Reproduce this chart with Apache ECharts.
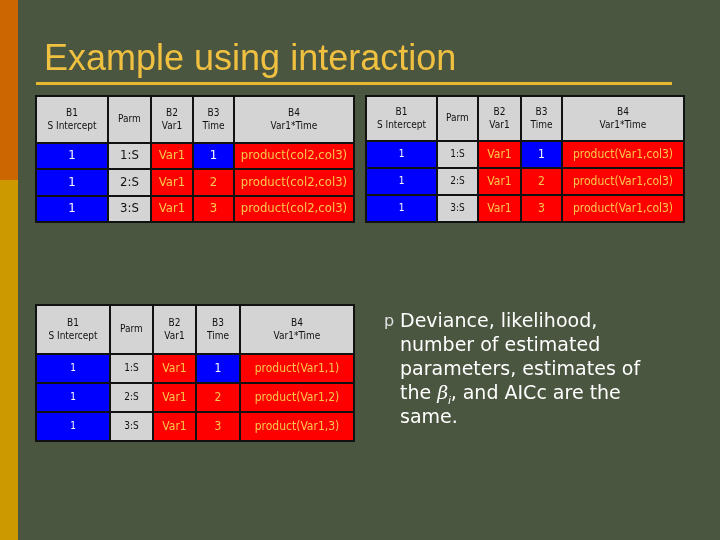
<!DOCTYPE html>
<html><head><meta charset="utf-8">
<script src="https://cdn.jsdelivr.net/npm/echarts@6/dist/echarts.min.js"></script>
<style>html,body{margin:0;padding:0;background:#4b5640}#c{width:720px;height:540px}</style>
</head><body><div id="c"></div>
<script>
// ---- data ----
const headers = ['B1\nS Intercept','Parm','B2\nVar1','B3\nTime','B4\nVar1*Time'];
const parms = ['1:S','2:S','3:S'];
const timeVals = ['1','2','3'];
const interceptVals = ['1','1','1'];
const var1Vals = ['Var1','Var1','Var1'];
const b4TopLeft = ['product(col2,col3)','product(col2,col3)','product(col2,col3)'];
const b4TopRight = ['product(Var1,col3)','product(Var1,col3)','product(Var1,col3)'];
const b4Bottom = ['product(Var1,1)','product(Var1,2)','product(Var1,3)'];

// ---- layout ----
const tables = [
  {b4: b4TopLeft, box:[36,96,318,126], cols:[72,43,42,41,120], rows:[47,26,27,26], fs:13, fs0:13},
  {b4: b4TopRight, box:[366,96,318,126], cols:[71,41,43,41,122], rows:[45,27,27,27], fs:12, fs0:10},
  {b4: b4Bottom, box:[36,305,318,136], cols:[74,43,43,44,114], rows:[49,29,29,29], fs:12, fs0:10}
];
const BLUE='#0000ff', RED='#ff0000', GRAY='#d4d4d4', YEL='#f5c84a';

function cells(t){
  const out=[];
  headers.forEach((h,c)=>out.push([c,0,h,'h']));
  for(let r=0;r<3;r++){
    const row=[interceptVals[r],parms[r],var1Vals[r],timeVals[r],t.b4[r]];
    row.forEach((v,c)=>{
      let k = c===0?'b':c===1?'g':c===3&&r===0?'b':'r';
      out.push([c,r+1,v,k]);
    });
  }
  return out;
}
const edges=a=>a.reduce((acc,w)=>{acc.push(acc[acc.length-1]+w);return acc;},[0]);

const grids=[],xAxes=[],yAxes=[],series=[];
tables.forEach((t,i)=>{
  const xe=edges(t.cols), ye=edges(t.rows);
  const data=cells(t);
  grids.push({left:t.box[0],top:t.box[1],width:t.box[2],height:t.box[3]});
  xAxes.push({gridIndex:i,type:'value',min:0,max:xe[xe.length-1],show:false});
  yAxes.push({gridIndex:i,type:'value',min:0,max:ye[ye.length-1],inverse:true,show:false});
  series.push({type:'custom',xAxisIndex:i,yAxisIndex:i,data:data,
    renderItem:(params,api)=>{
      const c=api.value(0), r=api.value(1);
      const d=data[params.dataIndex];
      const p0=api.coord([xe[c],ye[r]]), p1=api.coord([xe[c+1],ye[r+1]]);
      const k=d[3];
      const fill=k==='b'?BLUE:k==='r'?RED:GRAY;
      const tc=k==='b'?'#ffffff':k==='r'?YEL:'#111111';
      const isH=k==='h';
      const fs=isH?10:((c<=1)?t.fs0:t.fs);
      return {type:'group',children:[
        {type:'rect',shape:{x:p0[0],y:p0[1],width:p1[0]-p0[0],height:p1[1]-p0[1]},
         style:{fill:fill,stroke:'#111',lineWidth:2}},
        {type:'text',style:{text:d[2],x:(p0[0]+p1[0])/2,y:(p0[1]+p1[1])/2,
          align:'center',verticalAlign:'middle',fill:tc,
          font:fs+'px "DejaVu Sans Condensed","DejaVu Sans",sans-serif',lineHeight:isH?13:16}}
      ]};
    }});
});

const chart=echarts.init(document.getElementById('c'));
chart.setOption({
  backgroundColor:'#4b5640',
  animation:false,
  grid:grids,xAxis:xAxes,yAxis:yAxes,series:series,
  graphic:[
    {type:'rect',shape:{x:0,y:0,width:18,height:180},style:{fill:'#cc6600'}},
    {type:'rect',shape:{x:0,y:180,width:18,height:360},style:{fill:'#cc9900'}},
    {type:'text',style:{text:'Example using interaction',x:44,y:60,verticalAlign:'middle',
      fill:'#f0c040',font:'36px "Liberation Sans",Arial,sans-serif'}},
    {type:'rect',shape:{x:36,y:82,width:636,height:3},style:{fill:'#e8b830'}},
    {type:'text',style:{text:'p',x:384,y:322,verticalAlign:'middle',fill:'#e0e0e0',
      font:'16px "DejaVu Sans",sans-serif'}},
    {type:'text',style:{
      text:'Deviance, likelihood,\nnumber of estimated\nparameters, estimates of\nthe {b|β}{s|i}, and AICc are the\nsame.',
      x:400,y:310,verticalAlign:'top',fill:'#ffffff',lineHeight:24,
      font:'19px "DejaVu Sans",sans-serif',
      rich:{b:{fontStyle:'italic',fontFamily:'DejaVu Serif',fontSize:19,fill:'#fff'},
            s:{fontStyle:'italic',fontSize:11,fill:'#fff',verticalAlign:'bottom',padding:[8,0,0,0]}}}}
  ]
});
</script></body></html>
